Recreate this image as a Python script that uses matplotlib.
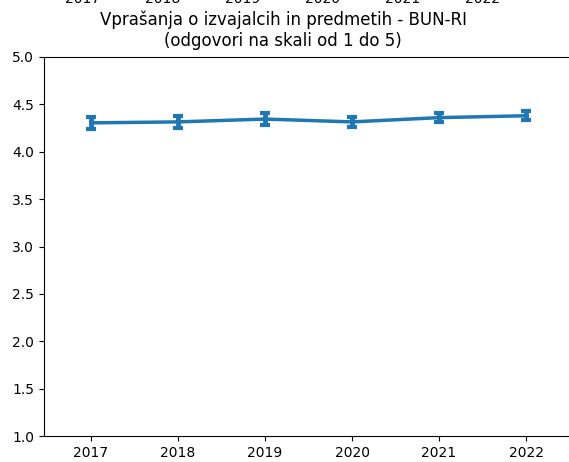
import numpy as np
import matplotlib
matplotlib.use('Agg')
import matplotlib.pyplot as plt

# values
years = [2017, 2018, 2019, 2020, 2021, 2022]
means = [4.305, 4.315, 4.345, 4.315, 4.36, 4.38]
errors = [0.066, 0.06, 0.066, 0.05, 0.05, 0.05]
title = 'Vprašanja o izvajalcih in predmetih - BUN-RI\n(odgovori na skali od 1 do 5)'

fig = plt.figure(figsize=(5.69, 4.62), dpi=100)
W, H = 569, 462
ax = fig.add_axes([44 / W, (H - 436) / H, (573 - 44) / W, (436 - 57) / H])

ax.errorbar(years, means, yerr=errors, color='tab:blue', linewidth=2.5,
            elinewidth=3.5, capsize=3.5, capthick=3)
ax.set_ylim(1.0, 5.0)
ax.set_xlim(2016.46, 2022.54)
ax.set_xticks(years)
ax.set_yticks(np.arange(1.0, 5.01, 0.5))
ax.set_title(title, fontsize=12, pad=8, x=(283 - 44) / 529)
ax.spines['right'].set_visible(False)

# tick labels of the chart above, cut off at the top edge
for i, yr in enumerate(years):
    fig.text((83 + 79.8 * i) / W, 1 - 6 / H, str(yr), ha='center', va='bottom',
             fontsize=10)

fig.savefig('out.png', dpi=100)
